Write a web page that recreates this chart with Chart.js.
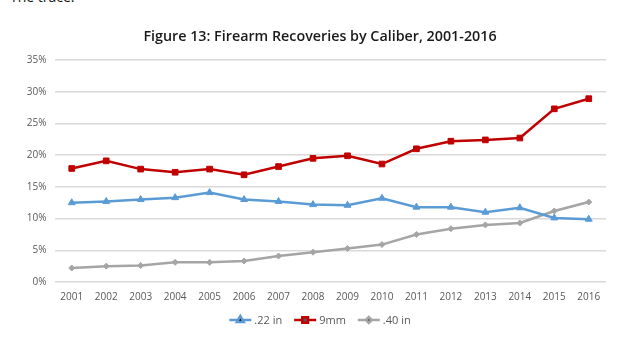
<!DOCTYPE html>
<html>
<head>
<meta charset="utf-8">
<script src="https://cdn.jsdelivr.net/npm/chart.js@4.4.1/dist/chart.umd.min.js"></script>
<style>
  html, body { margin: 0; padding: 0; background: #fff; overflow: hidden; }
  #wrap { position: relative; width: 640px; height: 339px; }
  #lead { position: absolute; left: 10px; top: -13px; font: 14px "Open Sans", sans-serif; color: #111; }
  #title { position: absolute; left: 0; width: 640px; top: 27px; text-align: center;
           font: 600 14.3px/18px "Open Sans", sans-serif; color: #1a1a1a; z-index: 1; }
  canvas { position: absolute; left: 0; top: 0; }
</style>
</head>
<body>
<div id="wrap">
  <div id="lead">The trace.</div>
  <canvas id="c" width="640" height="339"></canvas>
  <div id="title">Figure 13: Firearm Recoveries by Caliber, 2001-2016</div>
</div>
<script>
// Years on the x axis
const years = ['2001','2002','2003','2004','2005','2006','2007','2008',
               '2009','2010','2011','2012','2013','2014','2015','2016'];

// Share of recovered firearms by caliber, in percent
const cal22 = [12.5, 12.7, 13.0, 13.3, 14.1, 13.0, 12.7, 12.2,
               12.1, 13.2, 11.8, 11.8, 11.0, 11.7, 10.1, 9.9];
const cal9mm = [17.9, 19.1, 17.8, 17.3, 17.8, 16.9, 18.2, 19.5,
                19.9, 18.6, 21.0, 22.2, 22.4, 22.7, 27.3, 28.9];
const cal40 = [2.2, 2.5, 2.6, 3.1, 3.1, 3.3, 4.1, 4.7,
               5.3, 5.9, 7.5, 8.4, 9.0, 9.3, 11.2, 12.6];

// Y axis ticks
const yTicks = [0, 5, 10, 15, 20, 25, 30, 35];

const FONT = '"Open Sans", sans-serif';

const series = [
  { label: '.22 in', data: cal22, color: '#5b9bd5', point: 'triangle', r: 4 },
  { label: '9mm',    data: cal9mm, color: '#c00000', point: 'rect', r: 4 },
  { label: '.40 in', data: cal40, color: '#a5a5a5', point: 'rectRot', r: 3 }
];

// Legend with a short line through each marker, drawn below the axis
const lineLegend = {
  id: 'lineLegend',
  afterDraw(chart) {
    const ctx = chart.ctx;
    const y = 320;
    ctx.save();
    ctx.font = '11px ' + FONT;
    ctx.textBaseline = 'middle';
    const items = chart.data.datasets.map(ds => ({
      ds, w: 22 + 3 + ctx.measureText(ds.label).width
    }));
    const gap = 12;
    const total = items.reduce((s, it) => s + it.w, 0) + gap * (items.length - 1);
    let x = chart.width / 2 - total / 2;
    items.forEach(({ ds, w }) => {
      ctx.strokeStyle = ds.borderColor;
      ctx.lineWidth = 2.5;
      ctx.beginPath();
      ctx.moveTo(x, y);
      ctx.lineTo(x + 22, y);
      ctx.stroke();
      Chart.helpers.drawPoint(ctx, {
        pointStyle: ds.pointStyle, radius: ds.pointRadius, borderWidth: 1
      }, x + 11, y);
      ctx.fillStyle = '#595959';
      ctx.textAlign = 'left';
      ctx.fillText(ds.label, x + 25, y + 1);
      x += w + gap;
    });
    ctx.restore();
  }
};

new Chart(document.getElementById('c'), {
  type: 'line',
  data: {
    labels: years,
    datasets: series.map(s => ({
      label: s.label,
      data: s.data,
      borderColor: s.color,
      backgroundColor: s.color,
      borderWidth: 2.5,
      pointStyle: s.point,
      pointRadius: s.r,
      pointBorderWidth: 1,
      pointBorderColor: s.color,
      tension: 0,
      fill: false
    }))
  },
  options: {
    responsive: false,
    animation: false,
    devicePixelRatio: 1,
    layout: { padding: { left: 0, right: 34, top: 60, bottom: 27 } },
    plugins: {
      legend: { display: false },
      tooltip: { enabled: false },
      title: { display: false }
    },
    scales: {
      x: {
        offset: true,
        grid: { display: false, drawTicks: false },
        border: { display: false },
        ticks: { color: '#595959', font: { family: FONT, size: 10 }, padding: 9, maxRotation: 0, autoSkip: false }
      },
      y: {
        min: yTicks[0],
        max: yTicks[yTicks.length - 1],
        afterBuildTicks(scale) { scale.ticks = yTicks.map(v => ({ value: v })); },
        afterFit(scale) { scale.width = 54.5; },
        grid: { color: '#d9d9d9', lineWidth: 1.5, drawTicks: false },
        border: { display: false },
        ticks: {
          color: '#595959',
          font: { family: FONT, size: 10 },
          padding: 8,
          callback: v => v + '%'
        }
      }
    }
  },
  plugins: [lineLegend]
});
</script>
</body>
</html>
